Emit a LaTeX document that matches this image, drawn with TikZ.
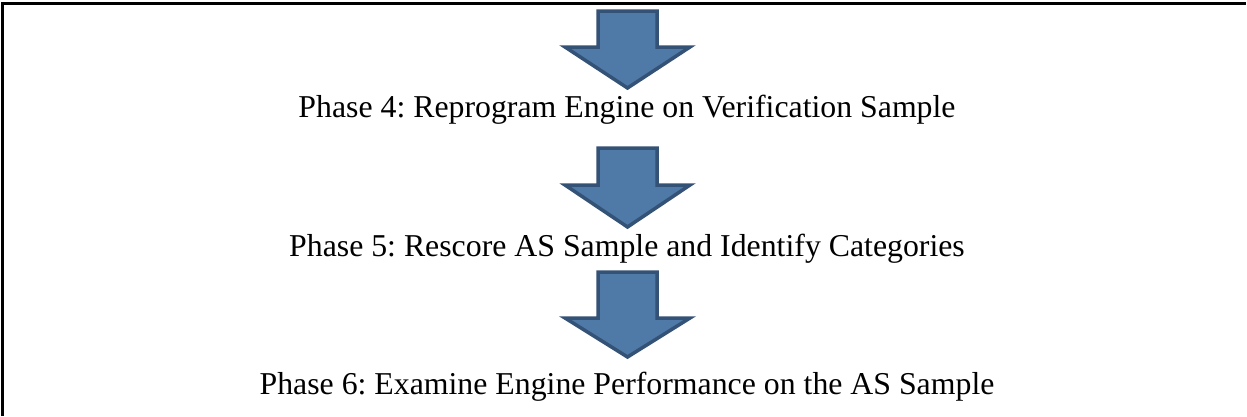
\documentclass[tikz,border=0pt]{standalone}
\usepackage{fontspec}
\setmainfont{Liberation Serif}
\frenchspacing
\definecolor{arrowfill}{RGB}{79,122,167}
\definecolor{arrowedge}{RGB}{52,82,118}
\tikzset{
  phasearrow/.style={fill=arrowfill, draw=arrowedge, line width=3.5pt, line join=miter},
  phaselabel/.style={anchor=base, inner sep=0pt, font=\fontsize{31.8}{36}\selectfont},
  frameline/.style={line width=3pt}
}
% down arrow: #1 top of shaft, #2 start of head, #3 tip (y grows downward)
\newcommand\downarrowat[3]{%
  \draw[phasearrow] (598,#1) -- (657,#1) -- (657,#2) -- (690,#2) -- (627.5,#3)
    -- (565,#2) -- (598,#2) -- cycle;}
\begin{document}
\begin{tikzpicture}[x=1pt,y=-1pt]
\useasboundingbox (0,0) rectangle (1247,416);
% open frame: top and left edges only
\draw[frameline] (2,416) -- (2,3) -- (1246,3);
\downarrowat{11}{47}{88}
\node[phaselabel] (p4) at (627,117) {Phase 4: Reprogram Engine on Verification Sample};
\downarrowat{148}{185}{227}
\node[phaselabel] (p5) at (627,256) {Phase 5: Rescore AS Sample and Identify Categories};
\downarrowat{272}{318}{357}
\node[phaselabel] (p6) at (627,394) {Phase 6: Examine Engine Performance on the AS Sample};
\end{tikzpicture}
\end{document}
